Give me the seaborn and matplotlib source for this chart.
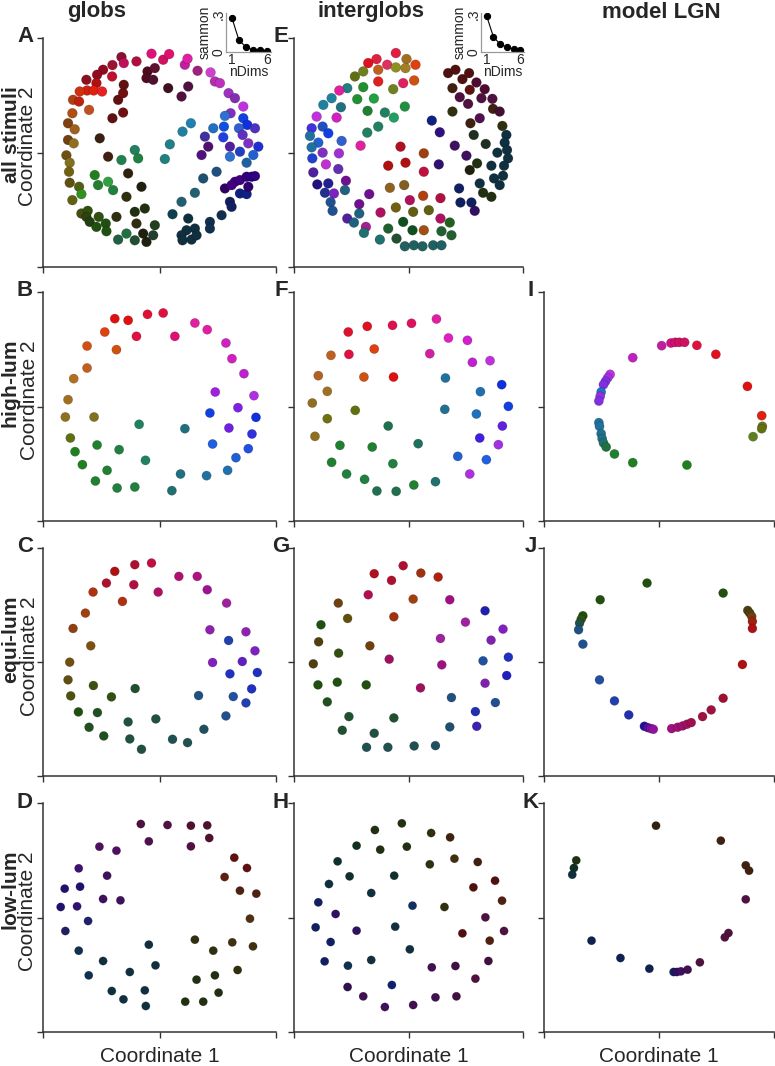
import matplotlib
matplotlib.use("Agg")
import matplotlib.pyplot as plt
import pandas as pd
import seaborn as sns

sns.set_style("ticks")
plt.rcParams["font.family"] = ["Liberation Sans", "DejaVu Sans"]
plt.rcParams["mathtext.fontset"] = "custom"
plt.rcParams["mathtext.rm"] = "Liberation Sans"
plt.rcParams["mathtext.bf"] = "Liberation Sans:bold"
plt.rcParams["mathtext.fallback"] = "stixsans"

# ---------------- data (MDS coordinates, arbitrary units; stimulus colour) ----------------
A_pts = [
    (235, 628, "#8b1030"), (242, 610, "#c0105a"), (280, 615, "#b01040"), (325, 638, "#e0107a"),
    (360, 620, "#d01060"), (378, 637, "#e01070"), (208, 604, "#a01030"), (180, 590, "#900a20"),
    (162, 575, "#900a20"), (130, 560, "#8a1020"), (160, 550, "#b01010"), (207, 570, "#c01030"),
    (132, 528, "#d02010"), (152, 528, "#e02010"), (177, 525, "#e82020"), (110, 525, "#d03010"),
    (90, 500, "#b04010"), (108, 495, "#c02010"), (138, 470, "#c05020"), (88, 460, "#b05010"),
    (75, 430, "#804010"), (95, 412, "#a06020"), (75, 380, "#704010"), (92, 370, "#907020"),
    (70, 334, "#705010"), (80, 312, "#807020"), (78, 285, "#706010"), (80, 252, "#605010"),
    (88, 200, "#606010"), (108, 240, "#506010"), (115, 218, "#309020"), (115, 160, "#405010"),
    (134, 168, "#305010"), (130, 150, "#304010"), (140, 135, "#204010"), (155, 275, "#208020"),
    (165, 245, "#208030"), (195, 255, "#30a040"), (210, 230, "#208040"), (167, 150, "#305010"),
    (160, 120, "#205010"), (188, 130, "#205010"), (190, 107, "#205010"), (225, 82, "#206040"),
    (250, 100, "#207040"), (275, 80, "#205030"), (220, 150, "#303010"), (275, 165, "#203010"),
    (305, 175, "#203010"), (280, 130, "#303010"), (300, 100, "#202010"), (310, 75, "#202010"),
    (330, 95, "#204030"), (335, 125, "#204020"), (250, 210, "#303010"), (295, 240, "#202010"),
    (255, 280, "#302010"), (195, 330, "#402010"), (170, 385, "#3a2010"), (235, 320, "#208050"),
    (275, 350, "#208060"), (285, 325, "#208040"), (365, 323, "#208080"), (380, 367, "#20808a"),
    (418, 405, "#2080a0"), (443, 430, "#2080b0"), (208, 445, "#601010"), (240, 462, "#701010"),
    (225, 500, "#601010"), (240, 520, "#701010"), (242, 545, "#601010"), (313, 585, "#500a20"),
    (335, 595, "#601030"), (310, 565, "#500a20"), (330, 560, "#501030"), (375, 535, "#401020"),
    (415, 510, "#501040"), (435, 540, "#501040"), (425, 605, "#c020a0"), (433, 623, "#e020a0"),
    (463, 587, "#a02080"), (502, 582, "#d040d0"), (515, 555, "#b030b0"), (530, 550, "#c030c0"),
    (556, 520, "#a030c0"), (575, 505, "#8030b0"), (600, 480, "#c030e0"), (562, 460, "#8030c0"),
    (545, 452, "#3070d0"), (600, 445, "#1040e0"), (612, 425, "#1030e0"), (587, 415, "#3060d0"),
    (635, 415, "#5030c0"), (542, 420, "#1050e0"), (510, 415, "#2070c0"), (485, 390, "#4030a0"),
    (540, 388, "#2040e0"), (598, 395, "#6030c0"), (615, 370, "#8030c0"), (645, 360, "#2030d0"),
    (560, 360, "#5020a0"), (590, 345, "#2040c0"), (630, 335, "#2060d0"), (560, 330, "#3070d0"),
    (610, 312, "#2060a0"), (475, 335, "#501080"), (495, 360, "#501070"), (520, 285, "#205080"),
    (480, 265, "#205070"), (455, 222, "#206070"), (415, 195, "#206070"), (388, 158, "#104050"),
    (435, 145, "#103040"), (455, 115, "#103040"), (430, 110, "#103040"), (415, 95, "#103040"),
    (418, 80, "#103040"), (445, 82, "#103040"), (460, 95, "#103040"), (500, 135, "#103050"),
    (500, 115, "#103050"), (535, 155, "#103050"), (560, 195, "#102060"), (565, 180, "#102060"),
    (590, 220, "#102080"), (610, 218, "#102080"), (615, 240, "#300070"), (575, 255, "#400080"),
    (590, 260, "#400080"), (610, 270, "#300080"), (625, 270, "#300080"), (635, 272, "#300080"),
    (545, 235, "#300060"), (565, 245, "#400080"),
]

E_pts = [
    (306, 640, "#e02040"), (338, 622, "#a07020"), (365, 605, "#e04010"), (248, 622, "#e02040"),
    (223, 610, "#e01020"), (280, 605, "#e03060"), (306, 597, "#909020"), (335, 595, "#a08020"),
    (208, 585, "#708020"), (253, 590, "#c06020"), (183, 570, "#607010"), (253, 555, "#e02020"),
    (328, 550, "#e02060"), (361, 558, "#d05010"), (208, 538, "#209030"), (160, 535, "#208080"),
    (136, 528, "#e020a0"), (113, 505, "#2080a0"), (190, 502, "#209030"), (240, 504, "#20a040"),
    (298, 532, "#708020"), (88, 485, "#2080a0"), (141, 478, "#207080"), (221, 467, "#208030"),
    (273, 462, "#208060"), (333, 480, "#209040"), (300, 447, "#20a060"), (68, 450, "#c030e0"),
    (128, 447, "#d020c0"), (53, 415, "#4030e0"), (86, 420, "#2050c0"), (103, 400, "#1040e0"),
    (48, 392, "#2070a0"), (253, 420, "#208060"), (220, 402, "#208060"), (73, 372, "#2060d0"),
    (143, 377, "#3060d0"), (53, 358, "#2070a0"), (200, 363, "#e020a0"), (86, 342, "#8030c0"),
    (135, 340, "#a030d0"), (55, 325, "#2040d0"), (96, 307, "#c030d0"), (133, 293, "#6030b0"),
    (58, 283, "#5020a0"), (156, 258, "#701090"), (70, 247, "#201080"), (103, 250, "#202090"),
    (93, 222, "#203090"), (120, 220, "#8020c0"), (153, 230, "#206080"), (110, 194, "#205090"),
    (116, 168, "#205090"), (226, 218, "#701090"), (196, 188, "#701090"), (196, 160, "#206080"),
    (160, 145, "#5020a0"), (180, 133, "#206080"), (216, 120, "#a02090"), (210, 102, "#207070"),
    (260, 163, "#b01060"), (258, 82, "#207070"), (283, 115, "#206030"), (308, 85, "#205030"),
    (320, 360, "#b01020"), (283, 303, "#b01010"), (335, 312, "#b01010"), (390, 340, "#a04010"),
    (390, 285, "#c01040"), (288, 237, "#906020"), (331, 245, "#806020"), (388, 213, "#b04010"),
    (440, 206, "#b01040"), (348, 200, "#b01060"), (306, 178, "#706010"), (358, 165, "#606010"),
    (405, 170, "#606010"), (328, 135, "#105020"), (356, 110, "#105020"), (390, 110, "#a05010"),
    (440, 145, "#b01060"), (468, 133, "#206020"), (443, 107, "#206030"), (473, 95, "#206030"),
    (333, 62, "#206060"), (360, 65, "#206060"), (386, 62, "#206060"), (418, 65, "#206060"),
    (443, 65, "#206060"), (414, 438, "#102080"), (438, 403, "#301080"), (435, 307, "#301070"),
    (463, 580, "#501010"), (485, 590, "#501010"), (506, 562, "#501010"), (526, 580, "#501010"),
    (476, 535, "#402010"), (528, 530, "#601010"), (548, 552, "#500a30"), (573, 532, "#500a30"),
    (498, 508, "#501040"), (523, 488, "#501040"), (563, 505, "#501040"), (596, 503, "#501040"),
    (598, 473, "#402010"), (618, 465, "#401030"), (476, 465, "#303010"), (558, 445, "#501050"),
    (530, 430, "#402010"), (626, 422, "#303010"), (483, 363, "#401060"), (540, 395, "#203020"),
    (638, 395, "#103040"), (576, 368, "#203020"), (633, 372, "#103040"), (640, 350, "#103040"),
    (518, 333, "#401060"), (611, 342, "#103040"), (643, 325, "#103040"), (550, 310, "#203010"),
    (528, 290, "#202010"), (593, 303, "#103040"), (631, 303, "#103040"), (601, 265, "#103040"),
    (558, 250, "#103040"), (628, 273, "#103040"), (618, 245, "#103040"), (496, 235, "#102060"),
    (568, 222, "#203010"), (593, 210, "#203010"), (500, 193, "#102060"), (533, 193, "#102060"),
    (543, 168, "#301060"),
]

B_pts = [
    (215, 607, "#e01010"), (255, 602, "#e01010"), (313, 620, "#e01030"), (360, 624, "#e01040"),
    (280, 554, "#e01040"), (395, 554, "#e01070"), (455, 594, "#e020a0"), (492, 574, "#e020a0"),
    (185, 567, "#e04010"), (132, 525, "#d05010"), (220, 514, "#d05010"), (132, 459, "#c06020"),
    (92, 427, "#b07020"), (548, 534, "#d020c0"), (566, 487, "#d020c0"), (602, 442, "#c020d0"),
    (516, 387, "#a020e0"), (632, 376, "#b030e0"), (75, 364, "#a07020"), (67, 312, "#907020"),
    (153, 312, "#807020"), (288, 290, "#208060"), (425, 277, "#207080"), (500, 324, "#1040e0"),
    (584, 340, "#8020e0"), (638, 311, "#1030e0"), (82, 249, "#607010"), (557, 279, "#7020e0"),
    (626, 261, "#3030e0"), (96, 208, "#208020"), (162, 228, "#208030"), (228, 214, "#208040"),
    (508, 231, "#2060e0"), (615, 217, "#2050e0"), (118, 169, "#208020"), (192, 152, "#208030"),
    (307, 182, "#208060"), (578, 190, "#2060d0"), (157, 120, "#208030"), (222, 99, "#208040"),
    (275, 102, "#208040"), (412, 141, "#207080"), (490, 136, "#2070a0"), (553, 152, "#2070b0"),
    (386, 91, "#207070"),
]

F_pts = [
    (163, 567, "#e01030"), (220, 584, "#e01020"), (296, 587, "#e01050"), (353, 593, "#e01060"),
    (428, 606, "#e020a0"), (111, 497, "#c06020"), (165, 500, "#e01040"), (241, 516, "#e04010"),
    (464, 549, "#e020c0"), (521, 542, "#d020d0"), (408, 502, "#d020a0"), (536, 476, "#c020d0"),
    (589, 481, "#c030e0"), (73, 436, "#b06020"), (210, 432, "#d05010"), (299, 432, "#e01010"),
    (455, 429, "#2070a0"), (100, 389, "#a07020"), (560, 388, "#2070b0"), (624, 409, "#1030e0"),
    (55, 354, "#907020"), (184, 332, "#607010"), (453, 335, "#207090"), (548, 321, "#2070c0"),
    (644, 344, "#1040e0"), (100, 307, "#707010"), (283, 285, "#207050"), (626, 285, "#6020e0"),
    (63, 254, "#907020"), (373, 232, "#207060"), (138, 227, "#208030"), (235, 222, "#208030"),
    (558, 249, "#4020e0"), (614, 229, "#a030e0"), (113, 176, "#208030"), (297, 172, "#208040"),
    (492, 194, "#2060d0"), (578, 184, "#2060e0"), (158, 141, "#208040"), (212, 125, "#208040"),
    (528, 141, "#b030e0"), (249, 90, "#207050"), (307, 89, "#207050"), (360, 108, "#208030"),
    (425, 118, "#207070"),
]

I_pts = [
    (354, 526, "#c020a0"), (382, 534, "#d01080"), (395, 536, "#d01070"), (407, 536, "#d01060"),
    (423, 536, "#d01060"), (460, 527, "#e01040"), (517, 500, "#e01020"), (267, 490, "#c020c0"),
    (199, 440, "#c030e0"), (192, 430, "#a030e0"), (185, 419, "#8030e0"), (179, 409, "#8030e0"),
    (172, 387, "#2070c0"), (169, 374, "#9030e0"), (165, 360, "#8030e0"), (612, 404, "#e01010"),
    (655, 316, "#e02010"), (165, 295, "#2070a0"), (167, 284, "#2070a0"), (172, 262, "#207090"),
    (175, 247, "#207080"), (179, 234, "#207070"), (187, 222, "#207040"), (212, 201, "#208030"),
    (267, 175, "#208020"), (430, 168, "#208020"), (657, 284, "#707020"), (655, 277, "#607010"),
    (629, 253, "#608020"),
]

C_pts = [
    (215, 613, "#b01010"), (275, 633, "#b01030"), (325, 638, "#c01040"), (190, 578, "#b01030"),
    (272, 573, "#b01040"), (345, 551, "#b01060"), (407, 598, "#b01070"), (462, 598, "#b01080"),
    (492, 558, "#a01090"), (550, 518, "#a020a0"), (150, 551, "#b03010"), (238, 523, "#b03010"),
    (127, 488, "#a04010"), (90, 442, "#904010"), (143, 390, "#805010"), (500, 438, "#9020b0"),
    (608, 432, "#9020b0"), (556, 406, "#2040b0"), (635, 375, "#8020c0"), (80, 341, "#705010"),
    (508, 340, "#8020c0"), (597, 343, "#6020c0"), (560, 306, "#2030c0"), (642, 310, "#2030c0"),
    (75, 288, "#605010"), (151, 271, "#405010"), (276, 262, "#205030"), (205, 237, "#305010"),
    (83, 240, "#505010"), (466, 241, "#205080"), (570, 238, "#2050a0"), (625, 261, "#2030c0"),
    (608, 219, "#2040b0"), (106, 192, "#205010"), (163, 190, "#205020"), (255, 162, "#205040"),
    (338, 171, "#205040"), (548, 180, "#205090"), (138, 146, "#205020"), (182, 120, "#205020"),
    (260, 111, "#205040"), (295, 80, "#205040"), (388, 110, "#205050"), (433, 100, "#205050"),
    (482, 140, "#205060"),
]

G_pts = [
    (328, 630, "#b01030"), (241, 606, "#b01020"), (381, 608, "#a03010"), (433, 596, "#b02010"),
    (293, 586, "#b01030"), (223, 543, "#b01050"), (358, 530, "#a04010"), (468, 528, "#a01080"),
    (133, 518, "#704010"), (300, 477, "#a03010"), (161, 472, "#605010"), (574, 495, "#2020b0"),
    (515, 461, "#a020a0"), (628, 440, "#8020c0"), (81, 453, "#205010"), (74, 402, "#504010"),
    (440, 412, "#a020a0"), (592, 407, "#8020b0"), (228, 390, "#704010"), (134, 368, "#305010"),
    (58, 336, "#504010"), (286, 350, "#a01060"), (444, 333, "#a01080"), (568, 345, "#2050a0"),
    (644, 356, "#2030c0"), (72, 273, "#205010"), (130, 281, "#205010"), (217, 273, "#205010"),
    (380, 264, "#a01060"), (574, 278, "#8020b0"), (639, 301, "#2020c0"), (100, 222, "#205020"),
    (473, 235, "#205080"), (605, 220, "#205090"), (165, 178, "#205030"), (300, 174, "#205030"),
    (545, 193, "#2030b0"), (145, 137, "#205030"), (241, 128, "#205040"), (468, 147, "#205070"),
    (549, 149, "#4020b0"), (218, 86, "#205050"), (282, 86, "#205050"), (361, 90, "#205050"),
    (425, 91, "#205060"),
]

J_pts = [
    (310, 578, "#205010"), (539, 548, "#205010"), (169, 528, "#205010"), (117, 480, "#205010"),
    (112, 470, "#305010"), (107, 458, "#205040"), (104, 438, "#205080"), (117, 395, "#205090"),
    (613, 496, "#504010"), (619, 488, "#504010"), (625, 478, "#704010"), (627, 463, "#a02010"),
    (627, 442, "#b01010"), (597, 334, "#b01010"), (167, 288, "#2050a0"), (212, 225, "#2040b0"),
    (255, 183, "#2030b0"), (302, 149, "#2010a0"), (312, 145, "#5010a0"), (322, 142, "#8010a0"),
    (329, 140, "#9010a0"), (384, 142, "#a01080"), (402, 146, "#a01070"), (417, 150, "#a01070"),
    (430, 155, "#a01060"), (443, 160, "#a01050"), (477, 178, "#a01040"), (503, 198, "#a01040"),
    (539, 233, "#a01030"),
]

D_pts = [
    (293, 624, "#501040"), (373, 621, "#501040"), (443, 619, "#501030"), (492, 620, "#501030"),
    (317, 572, "#501050"), (443, 557, "#501040"), (498, 582, "#501030"), (169, 556, "#501060"),
    (220, 544, "#501060"), (573, 523, "#601010"), (611, 492, "#601010"), (544, 465, "#602010"),
    (107, 491, "#401070"), (192, 469, "#401060"), (65, 430, "#201070"), (111, 436, "#201070"),
    (590, 424, "#502010"), (639, 415, "#502010"), (53, 375, "#201070"), (102, 377, "#301070"),
    (180, 399, "#401060"), (232, 395, "#401060"), (620, 340, "#503010"), (135, 333, "#202070"),
    (67, 303, "#202060"), (317, 262, "#103040"), (455, 277, "#303010"), (567, 269, "#403010"),
    (629, 257, "#403010"), (107, 244, "#103050"), (510, 244, "#303010"), (180, 213, "#103040"),
    (337, 200, "#103040"), (260, 180, "#103040"), (583, 186, "#303010"), (137, 170, "#103050"),
    (460, 157, "#203010"), (515, 170, "#203010"), (206, 123, "#103040"), (305, 125, "#103040"),
    (526, 118, "#203010"), (241, 98, "#103040"), (308, 78, "#103040"), (426, 91, "#203010"),
    (480, 91, "#203010"),
]

H_pts = [
    (324, 626, "#203010"), (243, 606, "#203010"), (412, 597, "#303010"), (469, 584, "#402010"),
    (188, 559, "#103020"), (259, 547, "#203010"), (339, 556, "#203010"), (482, 520, "#403010"),
    (408, 503, "#303010"), (552, 510, "#402010"), (131, 512, "#103030"), (167, 467, "#103030"),
    (301, 469, "#103030"), (604, 454, "#501010"), (539, 434, "#501010"), (105, 444, "#103040"),
    (232, 417, "#103040"), (73, 389, "#102060"), (356, 379, "#103060"), (452, 375, "#303010"),
    (625, 394, "#502010"), (125, 354, "#301060"), (575, 344, "#501040"), (65, 314, "#102060"),
    (188, 304, "#301060"), (304, 316, "#103040"), (506, 296, "#501010"), (631, 303, "#501040"),
    (110, 270, "#102060"), (348, 248, "#103040"), (588, 274, "#502010"), (92, 212, "#102060"),
    (162, 199, "#103050"), (232, 216, "#103040"), (414, 194, "#401050"), (485, 198, "#401040"),
    (584, 213, "#401040"), (161, 135, "#301050"), (294, 141, "#102070"), (545, 160, "#501040"),
    (208, 107, "#401050"), (273, 75, "#401060"), (358, 81, "#401050"), (425, 104, "#401050"),
    (488, 107, "#401040"),
]

K_pts = [
    (337, 619, "#302010"), (532, 574, "#402010"), (97, 515, "#203010"), (90, 492, "#103020"),
    (85, 472, "#103040"), (607, 500, "#402010"), (617, 484, "#402010"), (607, 398, "#501040"),
    (143, 274, "#102050"), (555, 297, "#501040"), (544, 284, "#501040"), (230, 222, "#102050"),
    (317, 190, "#102050"), (390, 180, "#102060"), (400, 180, "#301060"), (412, 182, "#401060"),
    (432, 187, "#401050"), (469, 209, "#501040"),
]

# Sammon stress vs number of dimensions (insets)
n_dims = [1, 2, 3, 4, 5, 6]
sammon_globs = [0.27, 0.092, 0.04, 0.015, 0.012, 0.008]
sammon_interglobs = [0.285, 0.12, 0.062, 0.038, 0.025, 0.015]

col_titles = ["globs", "interglobs", "model LGN"]
row_titles = ["all stimuli", "high\u2010lum", "equi\u2010lum", "low\u2010lum"]

# ---------------- layout ----------------
W, H = 775, 1066
fig = plt.figure(figsize=(W / 100, H / 100), dpi=100)

col_left = [43, 294, 544]
col_w = [233, 229, 230]
row_top = [38, 292, 548, 803]
row_h = [229, 229, 228, 229]
x_span = [698, 688, 692]
y_span = [685, 687, 683, 687]
row_size = [50, 44, 42, 36]

panels = {
    (0, 0): ("A", A_pts), (0, 1): ("E", E_pts),
    (1, 0): ("B", B_pts), (1, 1): ("F", F_pts), (1, 2): ("I", I_pts),
    (2, 0): ("C", C_pts), (2, 1): ("G", G_pts), (2, 2): ("J", J_pts),
    (3, 0): ("D", D_pts), (3, 1): ("H", H_pts), (3, 2): ("K", K_pts),
}
letter_x = [25, 281, 531]

for (r, c), (letter, pts) in panels.items():
    ax = fig.add_axes([col_left[c] / W, 1 - (row_top[r] + row_h[r]) / H,
                       col_w[c] / W, row_h[r] / H])
    df = pd.DataFrame(pts, columns=["coord1", "coord2", "stim"])
    sns.scatterplot(data=df, x="coord1", y="coord2", hue="stim",
                    palette={k: k for k in df["stim"].unique()}, legend=False,
                    s=row_size[r], edgecolor=(0, 0, 0, 0.25), linewidth=0.4,
                    ax=ax, clip_on=False)
    xs, ys = x_span[c], y_span[r]
    ax.set_xlim(0, xs)
    ax.set_ylim(0, ys)
    ax.set_xticks([0, xs / 2, xs])
    ax.set_yticks([0, ys / 2, ys])
    ax.set_xticklabels([])
    ax.set_yticklabels([])
    ax.set_xlabel("")
    ax.set_ylabel("")
    ax.tick_params(direction="out", length=4, width=1.0, color="#333333")
    sns.despine(ax=ax)
    for sp in ("left", "bottom"):
        ax.spines[sp].set_color("#333333")
        ax.spines[sp].set_linewidth(1.1)
    fig.text(letter_x[c] / W, 1 - (row_top[r] - 1) / H, letter, fontsize=16,
             fontweight="bold", ha="center", va="center")

# column titles and x labels
for c, t in enumerate(col_titles):
    cx = [97, 371, 661][c]
    fig.text(cx / W, 1 - 12 / H, t, fontsize=16, fontweight="bold",
             ha="center", va="center")
    fig.text((col_left[c] + col_w[c] / 2) / W, 1 - 1056 / H, "Coordinate 1",
             fontsize=15, ha="center", va="center")

# row titles: bold condition name stacked over "Coordinate 2", ends aligned
for r, t in enumerate(row_titles):
    top_y = 1 - (row_top[r] + row_h[r] / 2 - 66) / H
    label = r"$\mathbf{" + t.replace(" ", r"\ ") + "}$\nCoordinate 2"
    fig.text(19.5 / W, top_y, label, fontsize=15, rotation=90,
             ha="center", va="top", multialignment="right", linespacing=0.76)

# insets
for left, width, vals in [(226, 45, sammon_globs), (481, 43, sammon_interglobs)]:
    axi = fig.add_axes([left / W, 1 - 52 / H, width / W, 39 / H])
    sns.lineplot(x=n_dims, y=vals, marker="o", color="black", markersize=4.5,
                 markeredgecolor="black", linewidth=0.8, ax=axi)
    axi.set_xlim(0.15, 6.55)
    axi.set_ylim(0, 0.31)
    axi.set_xticks([1, 6])
    axi.set_xticklabels(["1", "6"], fontsize=10)
    axi.set_yticks([0, 0.3])
    axi.set_yticklabels(["0", ".3"], fontsize=10, rotation=90, va="center")
    axi.tick_params(length=0, pad=0.5)
    axi.set_xlabel("nDims", fontsize=10, labelpad=-1)
    axi.set_ylabel("sammon", fontsize=10, labelpad=0)
    axi.patch.set_alpha(0)
    sns.despine(ax=axi)
    for sp in ("left", "bottom"):
        axi.spines[sp].set_color("#999999")
        axi.spines[sp].set_linewidth(0.9)

fig.savefig("out.png", dpi=100)
